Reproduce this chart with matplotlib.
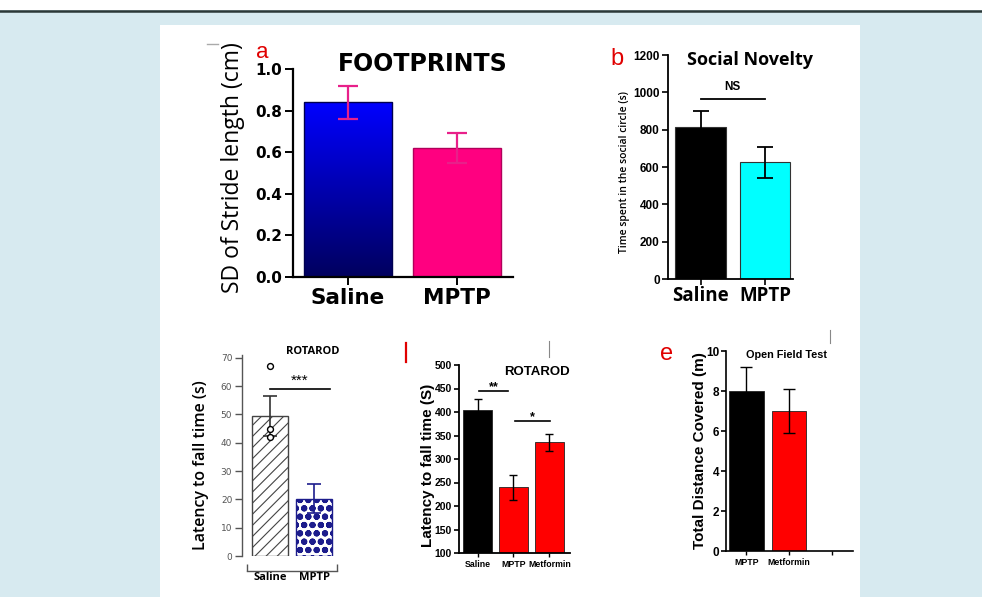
import numpy as np
import matplotlib
matplotlib.use("Agg")
import matplotlib.pyplot as plt
from matplotlib.patches import Rectangle
from matplotlib.lines import Line2D
from matplotlib.colors import LinearSegmentedColormap

W, H = 982, 597

# ---- data ----
a_groups = ["Saline", "MPTP"]
a_means = [0.84, 0.62]
a_err = [0.08, 0.07]

b_groups = ["Saline", "MPTP"]
b_means = [812, 626]
b_err = [90, 83]
b_ns_level = 963

c_groups = ["Saline", "MPTP"]
c_means = [49.5, 20.3]
c_err = [7.0, 5.0]
c_points = [67, 45, 42]
c_sig_level = 59

d_groups = ["Saline", "MPTP", "Metformin"]
d_means = [404, 240, 336]
d_err = [24, 27, 18]
d_sig = [(0.04, 0.85, 445, "**"), (1.04, 2.01, 381, "*")]

e_groups = ["MPTP", "Metformin", ""]
e_means = [8.0, 7.0]
e_err = [1.2, 1.1]


def px(x, y):
    return x / W, 1 - y / H


def axes_px(fig, x0, y0, x1, y1):
    # pixel box (left, top, right, bottom) -> axes
    return fig.add_axes([x0 / W, 1 - y1 / H, (x1 - x0) / W, (y1 - y0) / H])


def plain_axes(ax, lw=1.2, color="black"):
    for s in ["top", "right"]:
        ax.spines[s].set_visible(False)
    for s in ["left", "bottom"]:
        ax.spines[s].set_linewidth(lw)
        ax.spines[s].set_color(color)
    ax.set_facecolor("none")


def bold_ticks(ax, family="Liberation Sans"):
    for t in ax.get_yticklabels():
        t.set_fontfamily(family)
        t.set_fontweight("bold")


fig = plt.figure(figsize=(W / 100, H / 100), dpi=100)
fig.patch.set_facecolor("#d7eaf0")
fig.add_artist(Rectangle(px(0, 9.5), 1, 9.5 / H, transform=fig.transFigure,
                         facecolor="white", edgecolor="none", zorder=0))
fig.add_artist(Rectangle(px(160, 597), 700 / W, (597 - 25) / H, transform=fig.transFigure,
                         facecolor="white", edgecolor="none", zorder=0))
fig.add_artist(Line2D([0, 1], [1 - 10.5 / H] * 2, transform=fig.transFigure,
                      color="#2b3838", lw=1.8))

# ---------- panel a ----------
ax = axes_px(fig, 293, 69, 513, 277)
plain_axes(ax, lw=1.6)
xa = np.arange(len(a_groups))
bars = ax.bar(xa, a_means, width=0.81, color=["none", "#ff0080"],
              edgecolor=["#000050", "#b0005a"], linewidth=1, zorder=2)
b0 = bars[0]
grad = np.linspace(0, 1, 256).reshape(-1, 1)
cm_blue = LinearSegmentedColormap.from_list("bl", ["#0000ff", "#00005e"])
im = ax.imshow(grad, cmap=cm_blue, aspect="auto", zorder=1,
               extent=[b0.get_x(), b0.get_x() + b0.get_width(), 0, b0.get_height()])
im.set_clip_path(b0)
ax.errorbar(xa, a_means, yerr=a_err, fmt="none", ecolor="#e8208a",
            elinewidth=1.6, capsize=7, capthick=1.6, zorder=3)
ax.set_xlim(-0.505, 1.514)
ax.set_ylim(0, 1.0)
ax.set_yticks(np.arange(0, 1.01, 0.2))
ax.set_yticklabels([f"{v:.1f}" for v in np.arange(0, 1.01, 0.2)],
                   fontfamily="DejaVu Sans", fontweight="bold", fontsize=11)
ax.set_xticks(xa)
ax.set_xticklabels(a_groups, fontfamily="DejaVu Sans", fontweight="bold", fontsize=15.5)
ax.tick_params(axis="both", length=6, width=1.4, pad=2)
fig.text(*px(233, 168), "SD of Stride length (cm)", rotation=90, ha="center",
         va="center", fontsize=16.5, fontfamily="Open Sans")
fig.text(*px(423, 64), "FOOTPRINTS", ha="center", va="center", fontsize=17,
         fontfamily="DejaVu Sans", fontweight="bold")
fig.text(*px(262, 53), "a", ha="center", va="center", fontsize=16,
         color="#e00000", fontfamily="Liberation Sans")
fig.add_artist(Line2D([207 / W, 218 / W], [1 - 44 / H] * 2, transform=fig.transFigure,
                      color="#aaaaaa", lw=1))

# ---------- panel b ----------
ax = axes_px(fig, 668, 55, 793, 279)
plain_axes(ax, lw=1.3)
xb = np.arange(len(b_groups))
ax.bar(xb, b_means, width=0.79, color=["black", "#00ffff"], edgecolor="#333333",
       linewidth=0.8, zorder=2)
ax.errorbar(xb, b_means, yerr=b_err, fmt="none", ecolor="black", elinewidth=1.3,
            capsize=6, capthick=1.3, zorder=3)
ax.plot([0, 1], [b_ns_level] * 2, color="black", lw=1.3)
ax.text(0.5, b_ns_level + 35, "NS", ha="center", va="bottom", fontsize=8.5,
        fontfamily="Liberation Sans", fontweight="bold")
ax.set_xlim(-0.504, 1.434)
ax.set_ylim(0, 1200)
ax.set_yticks(np.arange(0, 1201, 200))
ax.tick_params(axis="y", labelsize=8.5, length=4, width=1.2, pad=2)
bold_ticks(ax)
ax.set_xticks(xb)
ax.set_xticklabels(b_groups, fontfamily="Open Sans", fontweight="bold", fontsize=13.5)
ax.tick_params(axis="x", length=4, width=1.2, pad=1)
fig.text(*px(624, 172), "Time spent in the social circle (s)", rotation=90,
         ha="center", va="center", fontsize=7.5, fontfamily="Open Sans",
         fontweight="semibold")
fig.text(*px(750, 60), "Social Novelty", ha="center", va="center", fontsize=13,
         fontfamily="Open Sans", fontweight="bold")
fig.text(*px(617, 59), "b", ha="center", va="center", fontsize=17,
         color="#e00000", fontfamily="Liberation Sans")

# ---------- panel c ----------
ax = axes_px(fig, 242, 355, 337, 556)
plain_axes(ax, lw=1.0, color="#555555")
xc = np.arange(len(c_groups))
plt.rcParams["hatch.linewidth"] = 0.8
bs = ax.bar(xc[0], c_means[0], width=0.81, color="white", edgecolor="#444444",
            hatch="///", linewidth=1.0, zorder=2)
plt.rcParams["hatch.linewidth"] = 2.1
bm = ax.bar(xc[1], c_means[1], width=0.81, color="white", edgecolor="#1c1c8c",
            hatch="oo", linewidth=1.0, zorder=2)
try:
    bs[0].set_hatch_linewidth(0.8)
    bm[0].set_hatch_linewidth(2.1)
except AttributeError:
    pass
ax.errorbar(xc[0], c_means[0], yerr=c_err[0], fmt="none", ecolor="#333333",
            elinewidth=1.2, capsize=5, capthick=1.2, zorder=3)
ax.errorbar(xc[1], c_means[1], yerr=c_err[1], fmt="none", ecolor="#1c1c8c",
            elinewidth=1.2, capsize=5, capthick=1.2, zorder=3)
ax.scatter([0] * len(c_points), c_points, s=18, facecolors="white",
           edgecolors="black", linewidths=1.0, zorder=4)
ax.plot([0, 1.35], [c_sig_level] * 2, color="black", lw=1.2)
ax.text(0.67, c_sig_level + 0.3, "***", ha="center", va="bottom", fontsize=11,
        fontfamily="Liberation Sans")
ax.set_xlim(-0.63, 1.51)
ax.set_ylim(0, 71)
ax.set_yticks(np.arange(0, 71, 10))
ax.tick_params(axis="y", labelsize=6.5, labelcolor="#555555", length=5,
               width=1.0, color="#555555", pad=2)
ax.spines["bottom"].set_position(("outward", 11))
ax.spines["bottom"].set_bounds(-0.52, 1.51)
ax.set_xticks(xc)
ax.set_xticklabels(c_groups, fontfamily="Open Sans", fontweight="bold", fontsize=8)
ax.tick_params(axis="x", length=0, pad=0.5)
ax.set_xticks([-0.52, 1.51], minor=True)
ax.tick_params(axis="x", which="minor", direction="in", length=5, width=1.0,
               color="#555555")
fig.text(*px(201, 465), "Latency to fall time (s)", rotation=90, ha="center",
         va="center", fontsize=11.5, fontfamily="Open Sans", fontweight="semibold")
fig.text(*px(313, 352), "ROTAROD", ha="center", va="center", fontsize=8,
         fontfamily="Open Sans", fontweight="bold")

# ---------- panel d ----------
ax = axes_px(fig, 459, 365, 570, 553)
plain_axes(ax, lw=1.3)
xd = np.arange(len(d_groups))
ax.bar(xd, d_means, width=0.8, color=["black", "#ff0000", "#ff0000"],
       edgecolor="#222222", linewidth=0.6, zorder=2)
ax.errorbar(xd, d_means, yerr=d_err, fmt="none", ecolor="black", elinewidth=1.0,
            capsize=3, capthick=1.0, zorder=3)
for x0, x1, yv, lab in d_sig:
    ax.plot([x0, x1], [yv, yv], color="black", lw=1.2)
    ax.text((x0 + x1) / 2, yv - 4, lab, ha="center", va="bottom", fontsize=9,
            fontfamily="Liberation Sans", fontweight="bold")
ax.set_xlim(-0.514, 2.57)
ax.set_ylim(100, 500)
ax.set_yticks(np.arange(100, 501, 50))
ax.tick_params(axis="y", labelsize=7.5, length=3.5, width=1.2, pad=1.5)
bold_ticks(ax)
ax.set_xticks(xd)
ax.set_xticklabels(d_groups, fontfamily="Liberation Sans", fontweight="bold", fontsize=6.3)
ax.tick_params(axis="x", length=3, width=1.0, pad=2)
fig.text(*px(428, 465), "Latency to fall time (S)", rotation=90, ha="center",
         va="center", fontsize=11, fontfamily="Liberation Sans", fontweight="bold")
fig.text(*px(537, 372), "ROTAROD", ha="center", va="center", fontsize=9.5,
         fontfamily="Liberation Sans", fontweight="bold")
fig.add_artist(Line2D([406 / W] * 2, [1 - 343 / H, 1 - 362 / H], transform=fig.transFigure,
                      color="#e00000", lw=1.6))
fig.add_artist(Line2D([549 / W] * 2, [1 - 341 / H, 1 - 357 / H], transform=fig.transFigure,
                      color="#888888", lw=0.8))

# ---------- panel e ----------
ax = axes_px(fig, 726, 351, 853, 551)
plain_axes(ax, lw=1.2)
xe = np.arange(len(e_means))
ax.bar(xe, e_means, width=0.81, color=["black", "#ff0000"], edgecolor="#222222",
       linewidth=0.6, zorder=2)
ax.errorbar(xe, e_means, yerr=e_err, fmt="none", ecolor="black", elinewidth=1.0,
            capsize=4, capthick=1.0, zorder=3)
ax.set_xlim(-0.48, 2.5)
ax.set_ylim(0, 10)
ax.set_yticks(np.arange(0, 11, 2))
ax.tick_params(axis="y", labelsize=8.5, length=3.5, width=1.2, pad=1.5)
bold_ticks(ax)
ax.set_xticks(np.arange(len(e_groups)))
ax.set_xticklabels(e_groups, fontfamily="Liberation Sans", fontweight="bold", fontsize=6.3)
ax.tick_params(axis="x", length=3, width=1.0, pad=2)
fig.text(*px(700, 451), "Total Distance Covered (m)", rotation=90, ha="center",
         va="center", fontsize=11, fontfamily="Liberation Sans", fontweight="bold")
fig.text(*px(787, 355), "Open Field Test", ha="center", va="center", fontsize=7.8,
         fontfamily="Liberation Sans", fontweight="bold")
fig.text(*px(667, 354), "e", ha="center", va="center", fontsize=17,
         color="#e00000", fontfamily="Liberation Sans")
fig.add_artist(Line2D([830 / W] * 2, [1 - 330 / H, 1 - 343 / H], transform=fig.transFigure,
                      color="#888888", lw=0.8))

fig.savefig("out.png", dpi=100, facecolor=fig.get_facecolor())
